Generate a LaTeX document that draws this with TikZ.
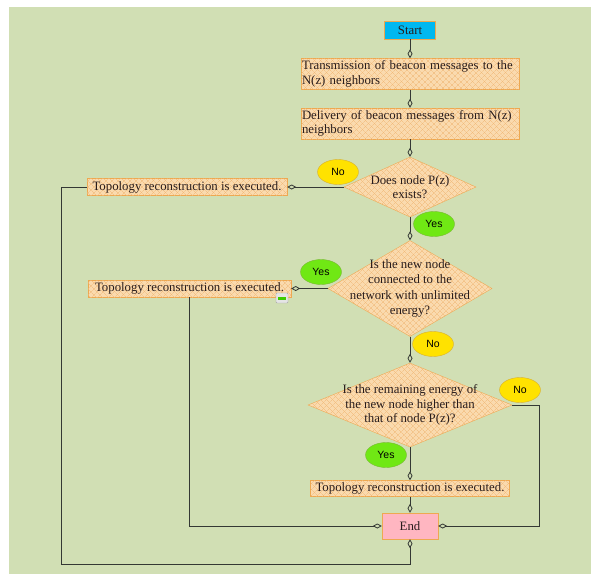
\documentclass[tikz,border=0pt]{standalone}
\usepackage{fontspec}
\setmainfont{Liberation Serif}
\newfontfamily\tagfont{Liberation Sans}
\usetikzlibrary{shapes.geometric,arrows.meta,patterns.meta}
\definecolor{bggreen}{RGB}{209,223,180}
\definecolor{boxfill}{RGB}{250,218,174}
\definecolor{hatchline}{RGB}{240,184,118}
\definecolor{boxline}{RGB}{238,168,80}
\definecolor{startfill}{RGB}{0,184,240}
\definecolor{endfill}{RGB}{255,182,193}
\definecolor{yesfill}{RGB}{112,232,20}
\definecolor{yesline}{RGB}{120,186,50}
\definecolor{nofill}{RGB}{255,226,0}
\definecolor{noline}{RGB}{216,176,50}
\definecolor{linegray}{RGB}{52,56,52}
\definecolor{txt}{RGB}{40,28,28}
\begin{document}
\begin{tikzpicture}[x=1pt,y=-1pt,
                    font=\fontsize{12.8}{14.5}\selectfont,text=txt,
                    hatched/.style={draw=boxline,fill=boxfill,
                      postaction={pattern={Lines[angle=45,distance=4pt,line width=0.4pt]},pattern color=hatchline},
                      postaction={pattern={Lines[angle=-45,distance=4pt,line width=0.4pt]},pattern color=hatchline}},
                    procbox/.style={hatched,text width=216pt,inner xsep=1pt,inner ysep=2pt,align=left,minimum height=31pt},
                    topobox/.style={hatched,minimum width=200pt,minimum height=17pt,inner sep=0pt},
                    decbox/.style={hatched,diamond,inner sep=0pt},
                    tag/.style={ellipse,minimum width=41pt,minimum height=25pt,inner sep=0pt,
                      font=\tagfont\fontsize{10.5}{12}\selectfont,text=black},
                    yestag/.style={tag,draw=yesline,fill=yesfill},
                    notag/.style={tag,draw=noline,fill=nofill},
                    conn/.style={draw=linegray,line width=0.8pt,-{Diamond[open,length=9pt,width=5pt]}}]
                    \useasboundingbox (0,0) rectangle (591,574);
                    \fill[white] (0,0) rectangle (591,574);
                    \fill[bggreen] (9,7) rectangle (591,574);
                    \node[draw=boxline,fill=startfill,minimum width=51pt,minimum height=18pt,inner sep=0pt] (start) at (410,30) {Start};
                    \node[procbox] (trans) at (410,74) {Transmission of beacon messages to the\\N(z) neighbors};
                    \node[procbox] (deliv) at (410,123.5) {Delivery of beacon messages from N(z)\\neighbors};
                    \node[decbox,minimum width=132pt,minimum height=60pt] (d1) at (410,187) {};
                    \node[align=center] (d1text) at (d1) {Does node P(z)\\exists?};
                    \node[topobox] (topo1) at (187,187) {Topology reconstruction is executed.};
                    \node[decbox,minimum width=164pt,minimum height=96pt] (d2) at (410,288.5) {};
                    \node[align=center,font=\fontsize{12.8}{15.2}\selectfont] (d2text) at (d2) {Is the new node\\connected to the\\network with unlimited\\energy?};
                    \node[topobox,minimum width=203pt] (topo2) at (189.5,288.5) {Topology reconstruction is executed.};
                    \node[decbox,minimum width=204pt,minimum height=84pt] (d3) at (410,405) {};
                    \node[align=center] (d3text) at (d3) {Is the remaining energy of\\the new node higher than\\that of node P(z)?};
                    \node[topobox,minimum width=199pt,minimum height=16pt] (topo3) at (410,488.5) {Topology reconstruction is executed.};
                    \node[draw=boxline,fill=endfill,minimum width=56pt,minimum height=26pt,inner sep=0pt] (fin) at (410,526) {End};
                    \coordinate (lcorner) at (61,564);
                    \coordinate (rcorner) at (539,526);
                    \draw[conn] (start) -- (trans);
                    \draw[conn] (trans) -- (deliv);
                    \draw[conn] (deliv) -- (d1);
                    \draw[conn] (d1) -- (topo1);
                    \draw[conn] (d1) -- (d2);
                    \draw[conn] (d2) -- (topo2);
                    \draw[conn] (d2) -- (d3);
                    \draw[conn] (d3) -- (topo3);
                    \draw[conn] (topo3) -- (fin);
                    \draw[conn] (topo1.west) -| (lcorner) -| (fin.south);
                    \draw[conn] (topo2.south) |- (fin.west);
                    \draw[conn] (d3.east) -| (rcorner) -- (fin.east);
                    \node[notag] (no1) at (338,172) {No};
                    \node[yestag] (yes1) at (434,224) {Yes};
                    \node[yestag] (yes2) at (321,272) {Yes};
                    \node[notag] (no2) at (433,344) {No};
                    \node[notag] (no3) at (520,390) {No};
                    \node[yestag] (yes3) at (386,455) {Yes};
                    \draw[gray!70,fill=gray!20,rounded corners=1pt] (276,293) rectangle (288,303);
                    \fill[green!60!lime!80!black] (278,296.5) rectangle (286,299.5);
                    \end{tikzpicture}
\end{document}
